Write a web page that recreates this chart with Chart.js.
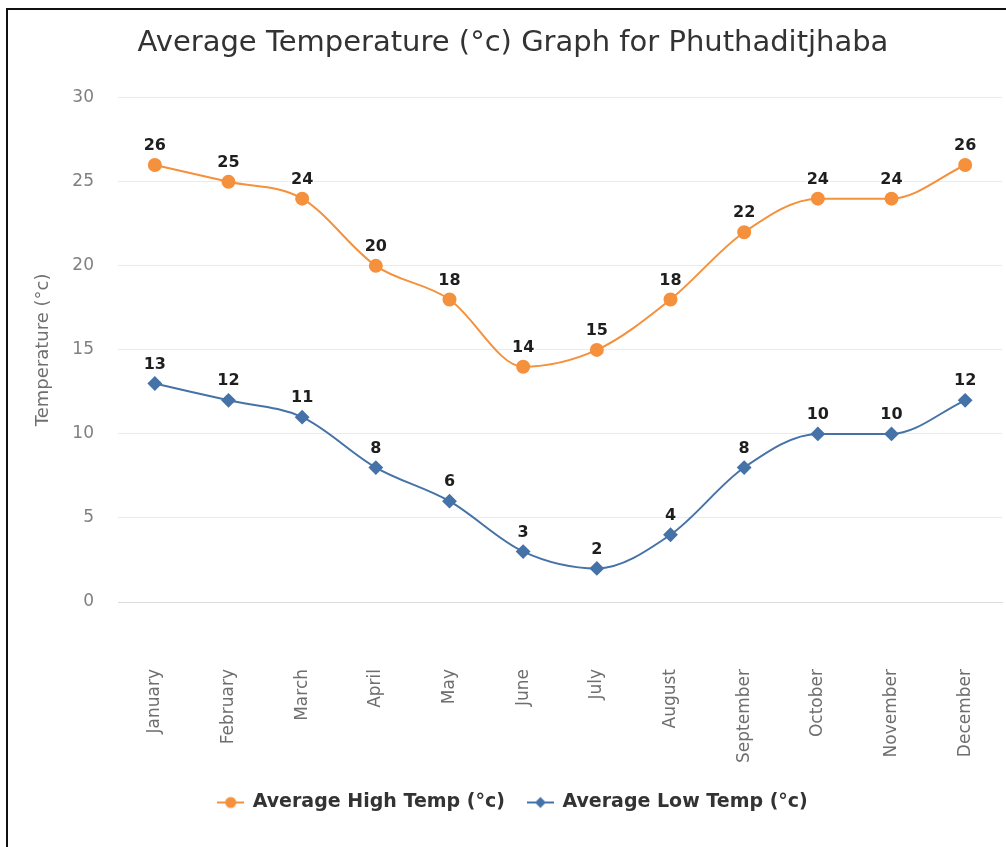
<!DOCTYPE html>
<html>
<head>
<meta charset="utf-8">
<script src="https://cdn.jsdelivr.net/npm/chart.js@4.4.1/dist/chart.umd.min.js"></script>
<style>
  html, body { margin: 0; padding: 0; background: #fff; overflow: hidden; }
  #wrap { position: relative; width: 1006px; height: 847px; }
  #frame { position: absolute; left: 6px; top: 8px; width: 1100px; height: 900px;
           border-left: 2px solid #111; border-top: 2px solid #111; pointer-events: none; }
  canvas { position: absolute; left: 0; top: 0; }
</style>
</head>
<body>
<div id="wrap">
  <canvas id="c" width="1006" height="847"></canvas>
  <div id="frame"></div>
</div>
<script>
const months = ['January','February','March','April','May','June','July','August','September','October','November','December'];
const highTemps = [26, 25, 24, 20, 18, 14, 15, 18, 22, 24, 24, 26];
const lowTemps = [13, 12, 11, 8, 6, 3, 2, 4, 8, 10, 10, 12];
const yTicks = [0, 5, 10, 15, 20, 25, 30];
const chartTitle = 'Average Temperature (°c) Graph for Phuthaditjhaba';
const yTitle = 'Temperature (°c)';
const highLabel = 'Average High Temp (°c)';
const lowLabel = 'Average Low Temp (°c)';

const HIGH = '#f5903c';
const LOW = '#4572a7';
const FONT = '"DejaVu Sans", sans-serif';

function legendSymbol(color, shape) {
  const c = document.createElement('canvas');
  c.width = 27; c.height = 14;
  const g = c.getContext('2d');
  g.strokeStyle = color; g.lineWidth = 2;
  g.beginPath(); g.moveTo(0, 7); g.lineTo(27, 7); g.stroke();
  g.fillStyle = color;
  g.beginPath();
  if (shape === 'circle') {
    g.arc(13.5, 7, 5.5, 0, Math.PI * 2);
  } else {
    g.moveTo(13.5, 1.5); g.lineTo(19, 7); g.lineTo(13.5, 12.5); g.lineTo(8, 7); g.closePath();
  }
  g.fill();
  return c;
}

const dataLabels = {
  id: 'dataLabels',
  afterDatasetsDraw(chart) {
    const ctx = chart.ctx;
    ctx.save();
    ctx.font = 'bold 16px ' + FONT;
    ctx.textAlign = 'center';
    ctx.textBaseline = 'middle';
    chart.data.datasets.forEach((ds, i) => {
      const meta = chart.getDatasetMeta(i);
      meta.data.forEach((pt, j) => {
        const txt = String(ds.data[j]);
        ctx.lineWidth = 3;
        ctx.lineJoin = 'round';
        ctx.strokeStyle = 'rgba(255,255,255,0.85)';
        ctx.strokeText(txt, pt.x, pt.y - 19);
        ctx.fillStyle = '#1e1e1e';
        ctx.fillText(txt, pt.x, pt.y - 19);
      });
    });
    ctx.restore();
  }
};

new Chart(document.getElementById('c'), {
  type: 'line',
  data: {
    labels: months,
    datasets: [
      {
        label: highLabel,
        data: highTemps,
        borderColor: HIGH,
        backgroundColor: HIGH,
        borderWidth: 2,
        pointStyle: 'circle',
        pointRadius: 6,
        pointHoverRadius: 6,
        cubicInterpolationMode: 'monotone',
        fill: false
      },
      {
        label: lowLabel,
        data: lowTemps,
        borderColor: LOW,
        backgroundColor: LOW,
        borderWidth: 2,
        pointStyle: 'rectRot',
        pointRadius: 6,
        pointHoverRadius: 6,
        cubicInterpolationMode: 'monotone',
        fill: false
      }
    ]
  },
  options: {
    responsive: false,
    animation: false,
    layout: { autoPadding: false, padding: { left: 24, right: 4, top: 0, bottom: 25 } },
    plugins: {
      title: {
        display: true,
        text: chartTitle,
        color: '#333333',
        font: { family: FONT, size: 29, weight: 'normal' },
        padding: { top: 26, bottom: 37 }
      },
      legend: {
        position: 'bottom',
        labels: {
          usePointStyle: true,
          pointStyleWidth: 25,
          padding: 23,
          color: '#333333',
          font: { family: FONT, size: 19, weight: 'bold' },
          generateLabels(chart) {
            return chart.data.datasets.map((ds, i) => ({
              text: ds.label,
              fillStyle: ds.borderColor,
              strokeStyle: ds.borderColor,
              lineWidth: 0,
              hidden: false,
              datasetIndex: i,
              fontColor: '#333333',
              pointStyle: legendSymbol(ds.borderColor, i === 0 ? 'circle' : 'diamond')
            }));
          }
        }
      },
      tooltip: { enabled: false }
    },
    scales: {
      x: {
        offset: true,
        grid: { display: true, drawOnChartArea: false, drawTicks: true, tickLength: 62, color: 'rgba(0,0,0,0)' },
        border: { display: true, color: '#dcdcdc', width: 1 },
        ticks: {
          minRotation: 90,
          maxRotation: 90,
          padding: 5,
          color: '#6e6e6e',
          autoSkip: false,
          font: { family: FONT, size: 17 }
        },
        afterFit(scale) { scale.height = 168; scale.paddingLeft = 0; scale.paddingRight = 0; }
      },
      y: {
        min: 0,
        max: 30,
        afterBuildTicks(scale) { scale.ticks = yTicks.map(v => ({ value: v })); },
        grid: { color: '#ebebeb', drawTicks: false, lineWidth: 1 },
        border: { display: false },
        ticks: {
          padding: 24,
          color: '#808080',
          font: { family: FONT, size: 17 }
        },
        title: {
          display: true,
          text: yTitle,
          color: '#707070',
          font: { family: FONT, size: 18 },
          padding: { top: 9, bottom: 0 }
        },
        afterFit(scale) { scale.width = 94; }
      }
    }
  },
  plugins: [dataLabels]
});
</script>
</body>
</html>
